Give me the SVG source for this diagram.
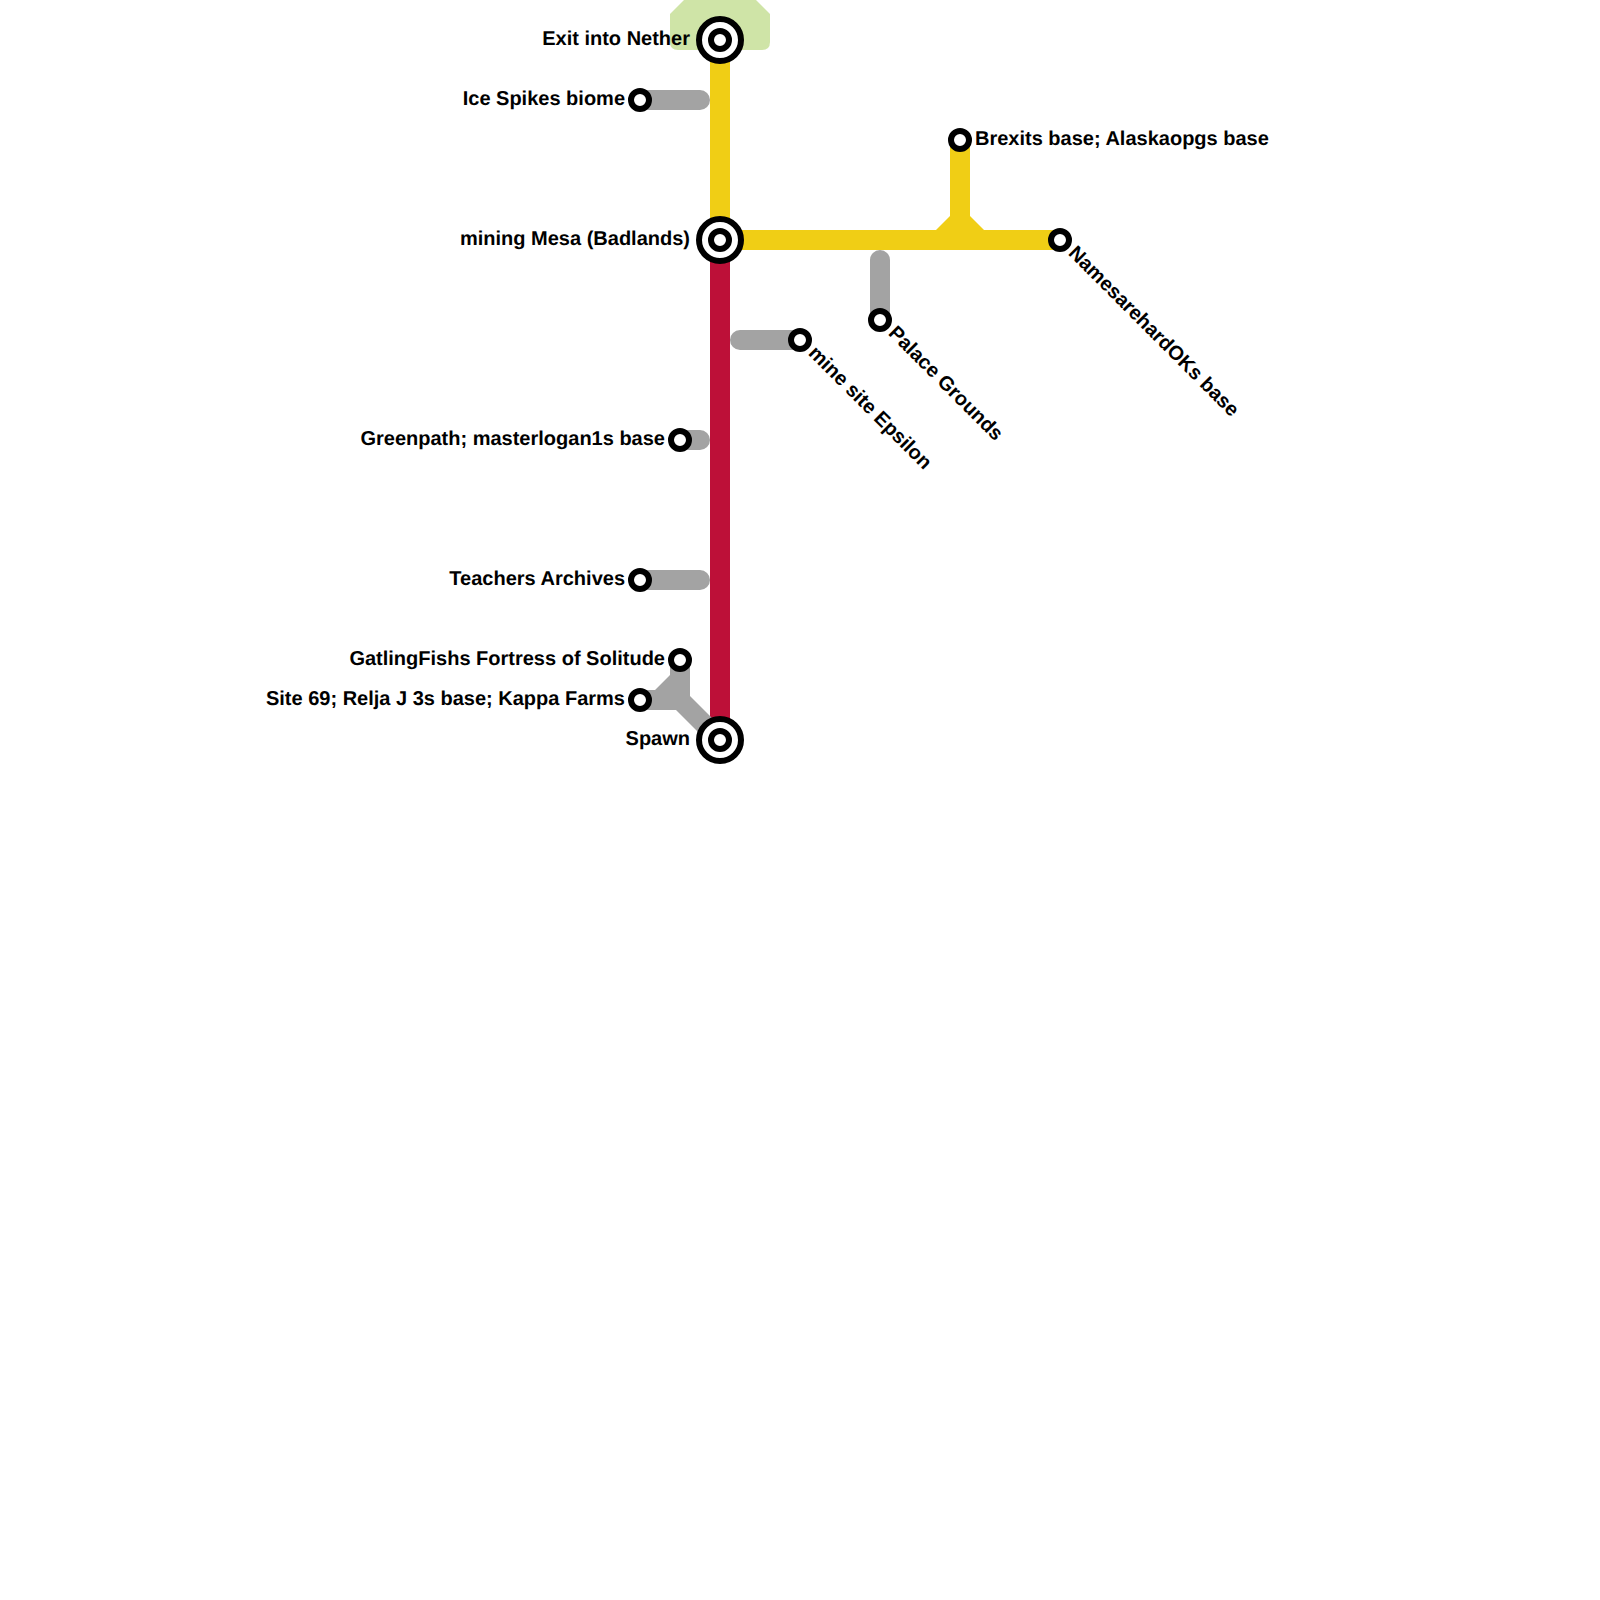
<svg xmlns="http://www.w3.org/2000/svg" width="1600" height="1600" viewBox="0 0 1600 1600">
<style>
.l{fill:none;stroke-width:20;stroke-linecap:butt;stroke-linejoin:miter}
.y{stroke:#f0ce15}.r{stroke:#bd1038}.g{stroke:#a3a3a3}.rc{stroke-linecap:round}
.gf{fill:#a3a3a3}.yf{fill:#f0ce15}
.s{fill:#fff;stroke:#000;stroke-width:6}
.b{fill:#fff;stroke:#000;stroke-width:6}
text{font-family:"Liberation Sans",Arial,sans-serif;font-weight:700;font-size:20px;fill:#000;text-rendering:geometricPrecision}
.e{text-anchor:end}
</style>
<rect width="1600" height="1600" fill="#fff"/>
<g id="connectors">
<path d="M684 0L670 14V42Q670 50 678 50H762Q770 50 770 42V14L756 0Z" fill="#cfe4a7"/>
<path class="l y" d="M720 40V240"/>
<path class="l r" d="M720 240V740"/>
<path class="l y" d="M720 240H1060M960 140V240"/>
<path class="yf" d="M936 230L950 216H970L984 230Z"/>
<path class="l g rc" d="M640 100H700M680 440H700M640 580H700M740 340H800M880 260V320"/>
<path class="gf" d="M670 660H690V696L726 732L712 746L676 710H640V690H655L670 675Z"/>
</g>
<g id="n-exit"><circle class="b" cx="720" cy="40" r="21"/><circle class="s" cx="720" cy="40" r="9"/><text class="e" x="690" y="44.5">Exit into Nether</text></g>
<g id="n-ice"><circle class="s" cx="640" cy="100" r="9"/><text class="e" x="625" y="104.5">Ice Spikes biome</text></g>
<g id="n-mesa"><circle class="b" cx="720" cy="240" r="21"/><circle class="s" cx="720" cy="240" r="9"/><text class="e" x="690" y="244.5">mining Mesa (Badlands)</text></g>
<g id="n-brexits"><circle class="s" cx="960" cy="140" r="9"/><text x="975" y="144.5">Brexits base; Alaskaopgs base</text></g>
<g id="n-names"><circle class="s" cx="1060" cy="240" r="9"/><text transform="translate(1067.5 254) rotate(45)">NamesarehardOKs base</text></g>
<g id="n-palace"><circle class="s" cx="880" cy="320" r="9"/><text transform="translate(887.5 334) rotate(45)">Palace Grounds</text></g>
<g id="n-epsilon"><circle class="s" cx="800" cy="340" r="9"/><text transform="translate(807.5 354) rotate(45)">mine site Epsilon</text></g>
<g id="n-green"><circle class="s" cx="680" cy="440" r="9"/><text class="e" x="665" y="444.5">Greenpath; masterlogan1s base</text></g>
<g id="n-teach"><circle class="s" cx="640" cy="580" r="9"/><text class="e" x="625" y="584.5">Teachers Archives</text></g>
<g id="n-gatling"><circle class="s" cx="680" cy="660" r="9"/><text class="e" x="665" y="664.5">GatlingFishs Fortress of Solitude</text></g>
<g id="n-site69"><circle class="s" cx="640" cy="700" r="9"/><text class="e" x="625" y="704.5">Site 69; Relja J 3s base; Kappa Farms</text></g>
<g id="n-spawn"><circle class="b" cx="720" cy="740" r="21"/><circle class="s" cx="720" cy="740" r="9"/><text class="e" x="690" y="744.5">Spawn</text></g>
</svg>
